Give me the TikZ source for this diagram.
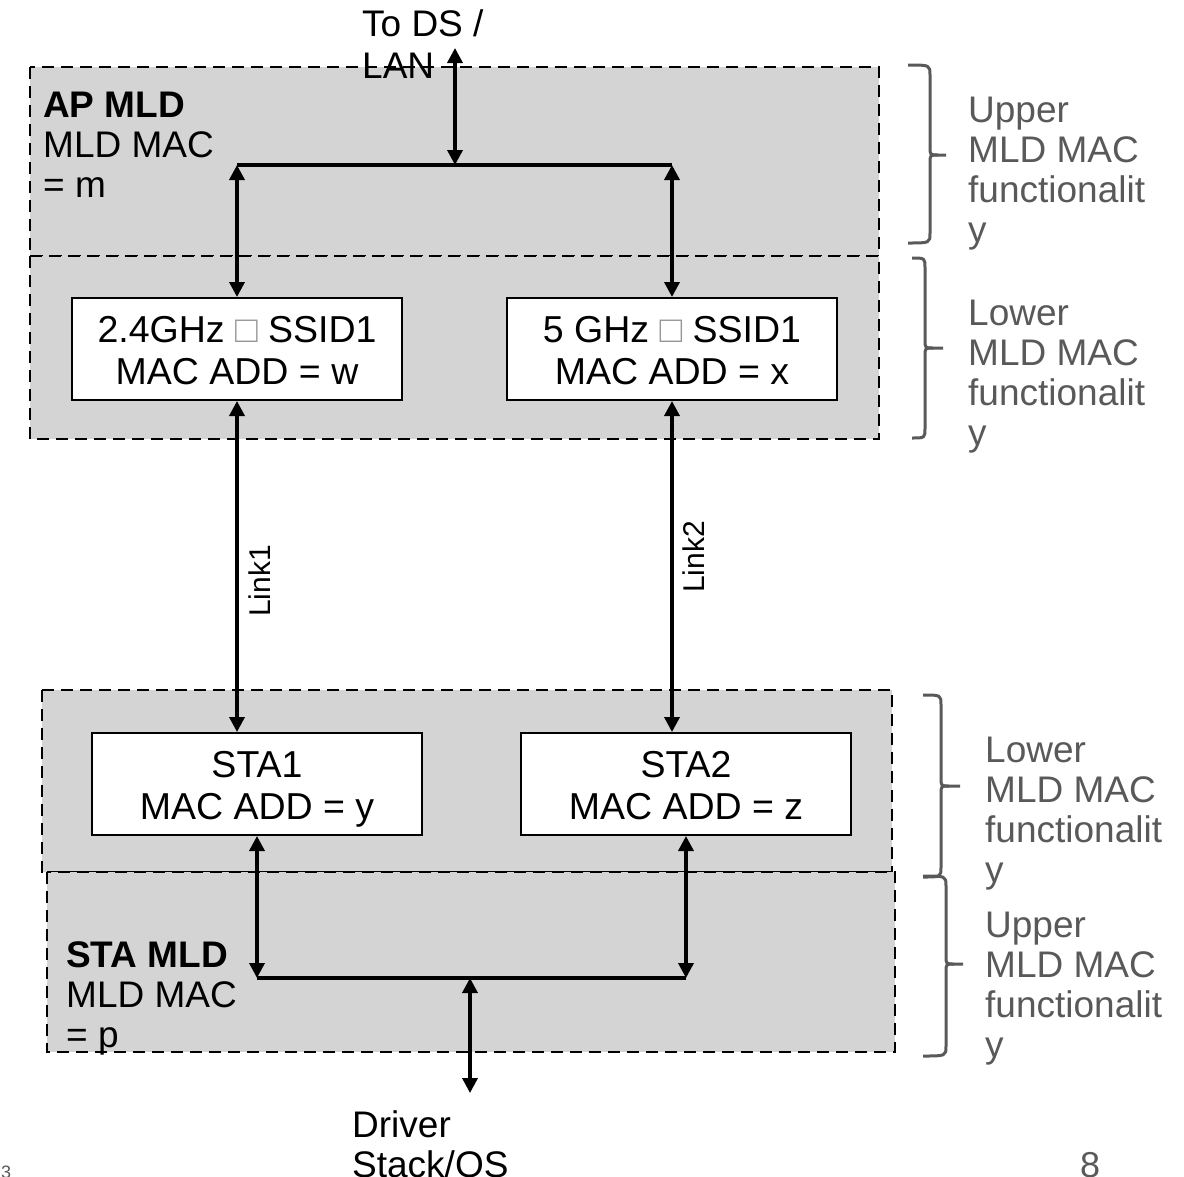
\documentclass[tikz,border=0pt]{standalone}
\usepackage{fontspec}
\setmainfont{Liberation Sans}
\usetikzlibrary{arrows.meta}
\definecolor{regfill}{RGB}{212,212,212}
\definecolor{lblgray}{RGB}{89,89,89}
\definecolor{tofugray}{RGB}{150,150,150}
\newcommand{\mybrace}[6]{%
  \draw[bracestyle] (#1,#2) .. controls (#3,#2) .. (#3,#2+10) -- (#3,#5-8) .. controls (#3,#5) .. (#3+8,#5) -- (#4,#5);
  \draw[bracestyle] (#3+8,#5) .. controls (#3,#5) .. (#3,#5+8) -- (#3,#6-10) .. controls (#3,#6) .. (#1,#6);
}
\begin{document}
\begin{tikzpicture}[x=1pt,y=-1pt,
  region/.style={fill=regfill,draw=black,line width=2.2pt,dash pattern=on 12pt off 7pt},
  boxnode/.style={draw=black,fill=white,line width=2pt,minimum width=330pt,minimum height=102pt,inner sep=0pt,align=center,text height=80pt,text depth=10pt,font=\fontsize{37.5}{42}\selectfont},
  conn/.style={line width=3.5pt},
  biarrow/.style={conn,{Triangle[length=15pt,width=15pt]}-{Triangle[length=15pt,width=15pt]}},
  txt/.style={inner sep=0pt,anchor=base west,align=left,font=\fontsize{37}{40}\selectfont},
  side/.style={txt,text=lblgray},
  linklbl/.style={inner sep=0pt,rotate=90,font=\fontsize{30}{30}\selectfont},
  bracestyle/.style={draw=lblgray,line width=3pt}]
\useasboundingbox (0,0) rectangle (1184,1176);

% regions
\path[region] (30,67) rectangle (879,256);
\path[region] (30,256) rectangle (879,439);
\path[region] (42,690) rectangle (892,872);
\path[region] (47,872) rectangle (895,1052);

% boxes
\node[boxnode] (box24) at (237,349) {2.4GHz \textcolor{tofugray}{□} SSID1\\MAC ADD = w};
\node[boxnode] (box5) at (672,349) {5 GHz \textcolor{tofugray}{□} SSID1\\MAC ADD = x};
\node[boxnode] (sta1) at (257,784) {STA1\\MAC ADD = y};
\node[boxnode] (sta2) at (686,784) {STA2\\MAC ADD = z};

% junction coordinates
\coordinate (ds) at (455,48);
\coordinate (jtop) at (455,165);
\coordinate (jtopL) at (237,165);
\coordinate (jtopR) at (672,165);
\coordinate (jbot) at (470,978);
\coordinate (jbotL) at (257,978);
\coordinate (jbotR) at (686,978);
\coordinate (drv) at (470,1093);

% connectors
\draw[conn] (jtopL) -- (jtopR);
\draw[biarrow] (jtop) -- (ds);
\draw[biarrow] (jtopL) -- (box24.north);
\draw[biarrow] (jtopR) -- (box5.north);
\draw[biarrow] (box24.south) -- (box24.south |- sta1.north);
\draw[biarrow] (box5.south) -- (box5.south |- sta2.north);
\draw[biarrow] (sta1.south) -- (jbotL);
\draw[biarrow] (sta2.south) -- (jbotR);
\draw[conn] (jbotL) -- (jbotR);
\draw[biarrow] (jbot) -- (drv);

% link labels
\node[linklbl] (l1) at (260,581) {Link1};
\node[linklbl] (l2) at (694,557) {Link2};

% texts (anchor = baseline of the last line)
\node[txt,font=\fontsize{37}{42}\selectfont] (tods) at (362,78) {To DS /\\LAN};
\node[txt] (apmld) at (43,197) {\textbf{AP MLD}\\MLD MAC\\= m};
\node[txt] (stamld) at (66,1047) {\textbf{STA MLD}\\MLD MAC\\= p};
\node[txt] (driver) at (352,1177) {Driver\\Stack/OS};

% side labels
\node[side] (up1) at (968,242) {Upper\\MLD MAC\\functionalit\\y};
\node[side] (lo1) at (968,445) {Lower\\MLD MAC\\functionalit\\y};
\node[side] (lo2) at (985,882) {Lower\\MLD MAC\\functionalit\\y};
\node[side] (up2) at (985,1057) {Upper\\MLD MAC\\functionalit\\y};

% braces
\mybrace{908}{65}{930}{946}{155}{243}
\mybrace{912}{258}{925}{943}{348}{438}
\mybrace{923}{695}{941}{960}{786}{877}
\mybrace{923}{876}{946}{963}{964}{1056}

% page marks
\node[inner sep=0pt,anchor=base west,text=lblgray,font=\fontsize{18}{18}\selectfont] (pg3) at (1,1178) {3};
\node[inner sep=0pt,anchor=base west,text=lblgray,font=\fontsize{36}{36}\selectfont] (pg8) at (1080,1177) {8};
\end{tikzpicture}
\end{document}
